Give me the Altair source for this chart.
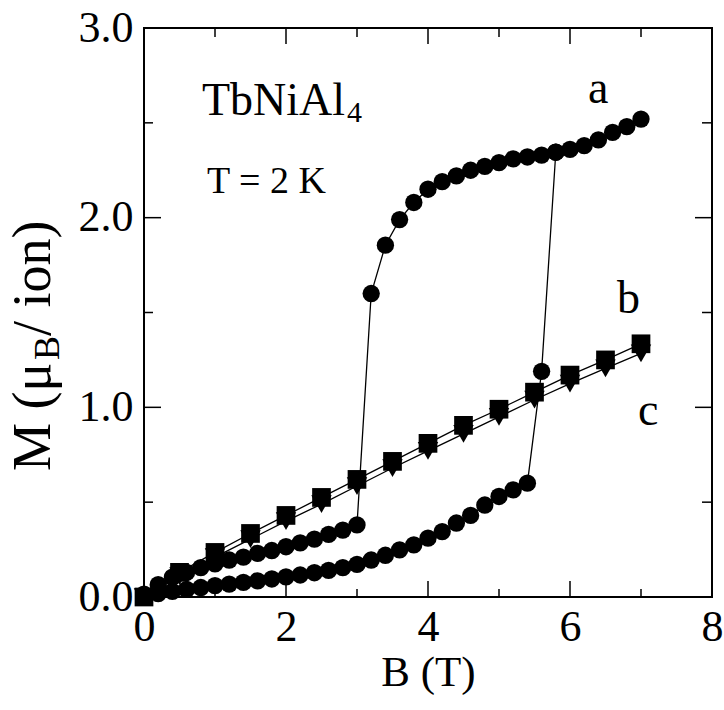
import altair as alt
import pandas as pd

FONT = "Liberation Serif"
W, H = 568, 569

# TbNiAl4 magnetisation at T = 2 K
# curve a: field sweep up (0 -> 5.8 T) and back down (7 -> 0 T)
a_up_B = [0.0, 0.2, 0.4, 0.6, 0.8, 1.0, 1.2, 1.4, 1.6, 1.8, 2.0, 2.2, 2.4, 2.6, 2.8,
          3.0, 3.2, 3.4, 3.6, 3.8, 4.0, 4.2, 4.4, 4.6, 4.8, 5.0, 5.2, 5.4, 5.6, 5.8]
a_up_M = [0.0, 0.018, 0.03, 0.04, 0.05, 0.06, 0.068, 0.077, 0.085, 0.095, 0.106, 0.116,
          0.128, 0.14, 0.155, 0.172, 0.195, 0.22, 0.248, 0.275, 0.31, 0.345, 0.39, 0.43,
          0.485, 0.53, 0.565, 0.60, 1.19, 2.345]
a_down_B = [7.0, 6.8, 6.6, 6.4, 6.2, 6.0, 5.8, 5.6, 5.4, 5.2, 5.0, 4.8, 4.6, 4.4, 4.2,
            4.0, 3.8, 3.6, 3.4, 3.2, 3.0, 2.8, 2.6, 2.4, 2.2, 2.0, 1.8, 1.6, 1.4, 1.2,
            1.0, 0.8, 0.6, 0.4, 0.2, 0.0]
a_down_M = [2.52, 2.48, 2.45, 2.41, 2.38, 2.36, 2.345, 2.33, 2.32, 2.31, 2.29, 2.27, 2.25,
            2.22, 2.19, 2.15, 2.08, 1.99, 1.855, 1.60, 0.38, 0.353, 0.33, 0.305, 0.285,
            0.265, 0.245, 0.23, 0.21, 0.195, 0.175, 0.155, 0.13, 0.105, 0.065, 0.015]

# curves b (squares) and c (down triangles)
bc_B = [0.0, 0.5, 1.0, 1.5, 2.0, 2.5, 3.0, 3.5, 4.0, 4.5, 5.0, 5.5, 6.0, 6.5, 7.0]
b_M = [0.0, 0.13, 0.235, 0.335, 0.43, 0.525, 0.62, 0.715, 0.81, 0.905, 0.99, 1.08, 1.17, 1.25, 1.335]
c_M = [0.0, 0.11, 0.21, 0.305, 0.40, 0.49, 0.585, 0.68, 0.77, 0.86, 0.95, 1.04, 1.125, 1.205, 1.285]

# axis ticks and labels
x_labels = [0, 2, 4, 6, 8]
x_major = [2, 4, 6]
x_minor = [1, 3, 5, 7]
y_labels = [0, 1, 2, 3]
y_major = [1, 2]
y_minor = [0.5, 1.5, 2.5]

a_df = pd.concat([
    pd.DataFrame({"B": a_up_B, "M": a_up_M, "sweep": "up"}),
    pd.DataFrame({"B": a_down_B, "M": a_down_M, "sweep": "down"}),
], ignore_index=True)
a_df["order"] = range(len(a_df))

b_df = pd.DataFrame({"B": bc_B, "M": b_M, "curve": "b"})
c_df = pd.DataFrame({"B": bc_B, "M": c_M, "curve": "c"})
bc_df = pd.concat([b_df, c_df], ignore_index=True)

xs = alt.Scale(domain=[0, 8], nice=False, zero=False)
ys = alt.Scale(domain=[0, 3], nice=False, zero=False)


def X(field="B"):
    return alt.X(f"{field}:Q", scale=xs, axis=None)


def Y(field="M"):
    return alt.Y(f"{field}:Q", scale=ys, axis=None)


lines_a = alt.Chart(a_df).mark_line(color="black", strokeWidth=1.3).encode(
    x=X(), y=Y(), detail="sweep:N", order="order:Q")
points_a = alt.Chart(a_df).mark_point(shape="circle", filled=True, size=300,
                                      color="black", opacity=1).encode(x=X(), y=Y())
lines_bc = alt.Chart(bc_df).mark_line(color="black", strokeWidth=1.3).encode(
    x=X(), y=Y(), detail="curve:N")
points_b = alt.Chart(b_df).mark_point(shape="square", filled=True, size=350,
                                      color="black", opacity=1).encode(x=X(), y=Y())
points_c = alt.Chart(c_df).mark_point(shape="triangle-down", filled=True, size=420,
                                      color="black", opacity=1).encode(x=X(), y=Y())

# tick labels and x title
label_axes = alt.Chart(b_df).mark_point(opacity=0).encode(
    x=alt.X("B:Q", scale=xs, title="B (T)", axis=alt.Axis(
        values=x_labels, format="d", ticks=False, labelFontSize=44, labelFont=FONT,
        labelColor="black", labelPadding=8, labelFlush=False, labelOverlap=False,
        domain=False, grid=False, titleFont=FONT, titleFontSize=43,
        titleFontWeight="normal", titleColor="black", titleY=88,
        titleBaseline="alphabetic")),
    y=alt.Y("M:Q", scale=ys, title=None, axis=alt.Axis(
        values=y_labels, format=".1f", ticks=False, labelFontSize=44, labelFont=FONT,
        labelColor="black", labelPadding=11, labelFlush=False, labelOverlap=False,
        domain=False, grid=False)),
)


# inward ticks on all four sides of the frame
def x_ticks(values, length, top):
    df = pd.DataFrame({"B": values})
    y0, y1 = (0, length) if top else (H, H - length)
    return alt.Chart(df).mark_rule(color="black", strokeWidth=1.5).encode(
        x=X(), y=alt.value(y0), y2=alt.value(y1))


def y_ticks(values, length, right):
    df = pd.DataFrame({"M": values})
    x0, x1 = (W, W - length) if right else (0, length)
    return alt.Chart(df).mark_rule(color="black", strokeWidth=1.5).encode(
        y=Y(), x=alt.value(x0), x2=alt.value(x1))


ticks = [
    x_ticks(x_major, 16, False), x_ticks(x_minor, 8, False),
    x_ticks(x_major, 16, True), x_ticks(x_minor, 9, True),
    y_ticks(y_major, 17, False), y_ticks(y_minor, 9, False),
    y_ticks(y_major, 17, True), y_ticks(y_minor, 10, True),
]


def note(text, x, y, size, angle=0):
    return alt.Chart(pd.DataFrame({"t": [text]})).mark_text(
        font=FONT, fontSize=size, align="left", baseline="alphabetic",
        angle=angle, color="black").encode(
        text="t:N", x=alt.value(x), y=alt.value(y))


notes = [
    note("TbNiAl", 58, 87, 46),
    note("4", 203, 94, 30),
    note("T = 2 K", 63, 165, 38),
    note("a", 444, 75, 46),
    note("b", 473, 285, 46),
    note("c", 494, 397, 46),
    # rotated y title: M (μ_B / ion)
    note("M  (μ", -94, 443, 54, angle=270),
    note("B", -85, 332, 36, angle=270),
    note("/ ion)", -94, 308, 54, angle=270),
]

chart = alt.layer(
    label_axes, *ticks, lines_a, lines_bc, points_a, points_b, points_c, *notes
).resolve_axis(x="independent", y="independent").properties(
    width=W, height=H,
    autosize=alt.AutoSizeParams(type="none"),
    padding={"left": 144, "top": 28, "right": 12, "bottom": 113},
).configure_view(stroke="black", strokeWidth=2)

chart.save("out.html", embed_options={"renderer": "svg", "actions": False})
